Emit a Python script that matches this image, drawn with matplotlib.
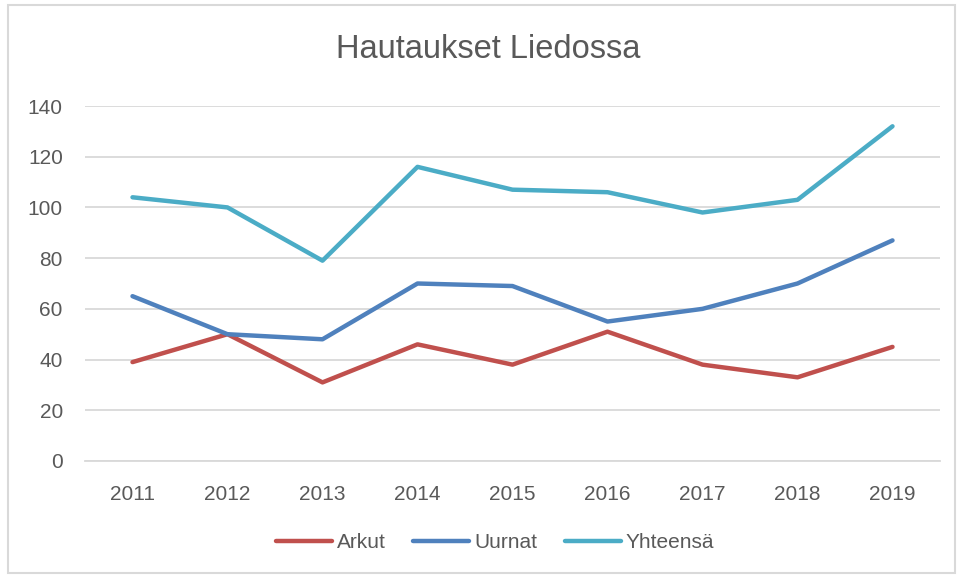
import matplotlib.pyplot as plt
from matplotlib.patches import Rectangle

years = ["2011", "2012", "2013", "2014", "2015", "2016", "2017", "2018", "2019"]
arkut = [39, 50, 31, 46, 38, 51, 38, 33, 45]
uurnat = [65, 50, 48, 70, 69, 55, 60, 70, 87]
yhteensa = [104, 100, 79, 116, 107, 106, 98, 103, 132]

TXT = "#595959"
plt.rcParams["font.family"] = ["Liberation Sans", "DejaVu Sans"]

fig = plt.figure(figsize=(9.61, 5.76), dpi=100)
ax = fig.add_axes([85 / 961, 115 / 576, 855 / 961, 355 / 576])

x = range(len(years))
kw = dict(lw=3.2, solid_capstyle="round", solid_joinstyle="round")
ax.plot(x, arkut, color="#C0504D", label="Arkut", **kw)
ax.plot(x, uurnat, color="#4F81BD", label="Uurnat", **kw)
ax.plot(x, yhteensa, color="#4BACC6", label="Yhteensä", **kw)

ax.set_xlim(-0.5, len(years) - 0.5)
ax.set_ylim(0, 140)
ax.set_yticks(range(0, 141, 20))
ax.set_xticks(list(x))
ax.set_xticklabels(years)
ax.grid(axis="y", color="#D9D9D9", lw=1.3)
ax.set_axisbelow(True)
for s in ax.spines.values():
    s.set_visible(False)
ax.spines["bottom"].set_visible(True)
ax.spines["bottom"].set_color("#D9D9D9")
ax.spines["bottom"].set_linewidth(1.3)
ax.tick_params(length=0, labelsize=15, colors=TXT, pad=17)
ax.tick_params(axis="y", pad=16)

fig.text(488 / 961, 1 - 50 / 576, "Hautaukset Liedossa", ha="center", va="center",
         fontsize=23.5, color=TXT)

leg = fig.legend(loc="center", bbox_to_anchor=(495 / 961, 1 - 543 / 576), ncol=3,
                 frameon=False, fontsize=15, handlelength=2.7, handletextpad=0.25,
                 columnspacing=1.3)
for t in leg.get_texts():
    t.set_color(TXT)

fig.patches.append(Rectangle((8 / 961, 3 / 576), 947 / 961, 568 / 576, transform=fig.transFigure,
                             fill=False, edgecolor="#D9D9D9", lw=1.5))

fig.savefig("out.png", dpi=100)
